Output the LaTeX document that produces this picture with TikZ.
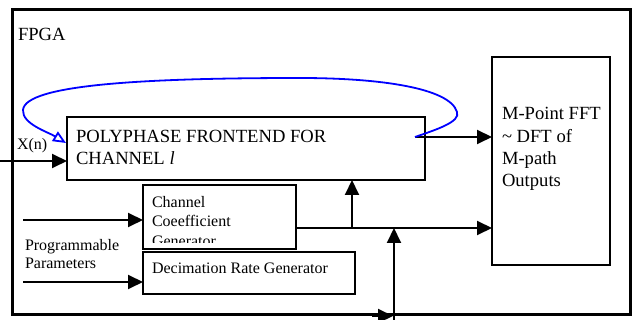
\documentclass[tikz,border=0pt]{standalone}
\usepackage{fontspec}
\setmainfont{Liberation Serif}
\usetikzlibrary{arrows.meta}
\begin{document}
\begin{tikzpicture}[x=1pt,y=-1pt,
  box/.style={draw=black,line width=1.6pt,rectangle,anchor=north west,inner sep=0pt,outer sep=0pt},
  frame/.style={draw=black,line width=3pt,rectangle,anchor=north west,inner sep=0pt,outer sep=0pt},
  lbl/.style={anchor=base west,inner sep=0pt,outer sep=0pt},
  big/.style={font=\fontsize{18.6}{22}\selectfont},
  small/.style={font=\fontsize{16}{19}\selectfont},
  arr/.style={line width=2pt,-{Triangle[length=15pt,width=14pt]}},
  fb/.style={draw=blue,line width=1.8pt,-{Triangle[open,length=13pt,width=11pt,line width=1.8pt]}}
]
\useasboundingbox (0,0) rectangle (633,320);
\fill[white] (0,0) rectangle (633,320);
% boxes
\node[frame,minimum width=618pt,minimum height=305pt] (fpga) at (12,10) {};
\node[box,minimum width=358pt,minimum height=63pt] (poly) at (67,117) {};
\node[box,minimum width=118pt,minimum height=208pt] (fft) at (492,57) {};
\node[box,minimum width=153pt,minimum height=64pt] (ccg) at (143,185) {};
\node[box,minimum width=212pt,minimum height=42pt] (drg) at (143,252) {};
% texts
\node[lbl,big] (tfpga) at (18,41) {FPGA};
\node[lbl,small] (txn) at (17,150) {X(n)};
\node[lbl,big] (tp1) at (76,143) {POLYPHASE FRONTEND FOR};
\node[lbl,big] (tp2) at (76,165) {CHANNEL \textit{l}};
\node[lbl,big] (tf1) at (502,120) {M-Point FFT};
\node[lbl,big] (tf2) at (502,143) {\char`~{} DFT of};
\node[lbl,big] (tf3) at (502,165) {M-path};
\node[lbl,big] (tf4) at (502,187) {Outputs};
\node[lbl,small] (tc1) at (152,208) {Channel};
\node[lbl,small] (tc2) at (152,227) {Coeefficient};
\begin{scope}
\clip (143,185) rectangle (296,242.5);
\node[lbl,small] (tc3) at (152,246.5) {Generator};
\end{scope}
\node[lbl,small] (tpp1) at (25,251) {Programmable};
\node[lbl,small] (tpp2) at (25,269) {Parameters};
\node[lbl,small] (td) at (152,274) {Decimation Rate Generator};
% coordinates
\coordinate (xin) at (0,161);
\coordinate (pout) at (415,137);
\coordinate (fbend) at (66,143);
\coordinate (pin1) at (23,220);
\coordinate (pin2) at (23,282);
\coordinate (cline) at (0,228);
\coordinate (cout) at (ccg.east |- cline);
\coordinate (br) at (352,228);
\coordinate (vb) at (394,322);
\coordinate (ba) at (372,316);
\coordinate (bb) at (393,316);
% connectors
\draw[arr] (xin) -- (xin -| poly.west);
\draw[arr] (pout) -- (pout -| fft.west);
\draw[arr] (pin1) -- (pin1 -| ccg.west);
\draw[arr] (pin2) -- (pin2 -| drg.west);
\draw[arr] (cout) -- (cout -| fft.west);
\draw[arr] (br) -- (br |- poly.south);
\draw[arr] (vb) -- (vb |- cline);
\draw[arr] (ba) -- (bb);
% feedback curve
\draw[fb] (pout) .. controls (435,130) and (461,122) .. (457,112)
  .. controls (450,88) and (380,78) .. (300,78)
  .. controls (150,78) and (25,84) .. (23,110)
  .. controls (22,124) and (48,132) .. (fbend);
\end{tikzpicture}
\end{document}
